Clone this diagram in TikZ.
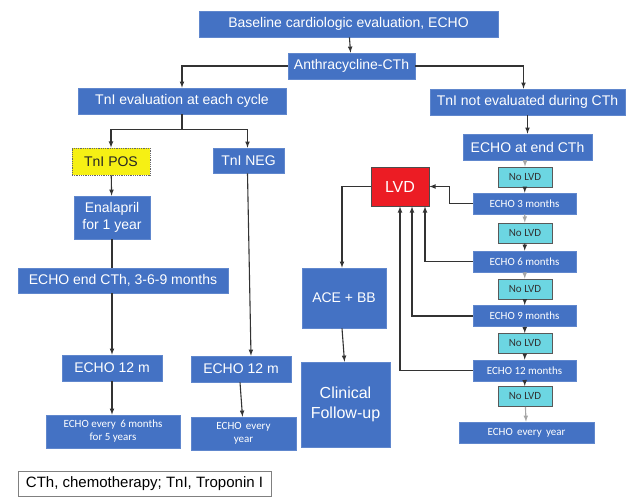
\documentclass[tikz,border=0pt]{standalone}
\usepackage{fontspec}
\setmainfont{Liberation Sans}
\newfontfamily\calfont{Carlito}
\usepackage{tikz}
\usetikzlibrary{positioning}

\definecolor{boxblue}{RGB}{68,114,196}
\definecolor{boxred}{RGB}{236,28,36}
\definecolor{boxyellow}{RGB}{246,240,20}
\definecolor{boxcyan}{RGB}{108,214,226}

\tikzset{
  bluebox/.style={draw=boxblue!85!white, line width=0.6pt, fill=boxblue, text=white,
    inner sep=0pt, align=center, font=\fontsize{14}{17}\selectfont},
  smallbox/.style={bluebox, font=\calfont\fontsize{11}{13}\selectfont},
  posbox/.style={draw=black!60, densely dotted, line width=0.8pt, fill=boxyellow, text=black!85,
    inner sep=0pt, font=\fontsize{14}{17}\selectfont},
  lvdbox/.style={draw=black!70, line width=0.8pt, fill=boxred, text=white,
    inner sep=0pt, font=\fontsize{16}{18}\selectfont},
  nolvdbox/.style={draw=black!65, line width=0.8pt, fill=boxcyan, text=black!80,
    inner sep=0pt, minimum width=54pt, minimum height=20pt, font=\calfont\fontsize{11}{13}\selectfont},
  legendbox/.style={draw=black!50, line width=1pt, fill=white, text=black,
    inner sep=0pt, font=\fontsize{15}{17}\selectfont},
  arr/.style={-latex, line width=1.1pt, draw=black!80},
  arrlight/.style={-latex, line width=1.1pt, draw=black!35},
  link/.style={line width=1.1pt, draw=black!80}
}

\begin{document}
\begin{tikzpicture}[x=1pt, y=-1pt]
  \useasboundingbox (0,0) rectangle (641,503);

  % Top of the chart
  \node[bluebox, minimum width=299pt, minimum height=26pt] (base) at (348.5,24) {Baseline cardiologic evaluation, ECHO};
  \node[bluebox, minimum width=127pt, minimum height=26pt] (anth) at (351.5,66) {Anthracycline-CTh};
  \node[bluebox, minimum width=208pt, minimum height=26pt] (tnie) at (182,101) {TnI evaluation at each cycle};
  \node[bluebox, minimum width=195pt, minimum height=26pt] (tnin) at (527.5,102) {TnI not evaluated during CTh};
  \node[bluebox, minimum width=129pt, minimum height=26pt] (echoend) at (527.5,147) {ECHO at end CTh};

  % Left branch
  \node[posbox, minimum width=78pt, minimum height=27pt] (pos) at (111,161.5) {TnI POS};
  \node[bluebox, minimum width=71pt, minimum height=25pt] (neg) at (248.5,160.5) {TnI NEG};
  \node[bluebox, minimum width=76pt, minimum height=43pt] (enal) at (112,217.5) {Enalapril\\for 1 year};
  \node[bluebox, minimum width=210pt, minimum height=25pt] (echoend369) at (123,280.5) {ECHO end CTh, 3-6-9 months};
  \node[bluebox, minimum width=100pt, minimum height=26pt] (echoa) at (112,368) {ECHO 12 m};
  \node[smallbox, minimum width=134pt, minimum height=33pt] (sixm) at (113,431.5) {ECHO every\, 6 months\\for 5 years};
  \node[bluebox, minimum width=100pt, minimum height=26pt] (echob) at (241,369) {ECHO 12 m};
  \node[smallbox, minimum width=105pt, minimum height=33pt] (yearb) at (243.5,433.5) {ECHO\, every\\year};

  % Middle
  \node[lvdbox, minimum width=58pt, minimum height=39pt] (lvd) at (400,186.5) {LVD};
  \node[bluebox, minimum width=84pt, minimum height=60pt] (ace) at (344,298) {ACE + BB};
  \node[bluebox, minimum width=89pt, minimum height=85pt, font=\fontsize{16}{20}\selectfont] (clin) at (345.5,404.5) {Clinical\\Follow-up};

  % Right column
  \foreach \i/\y in {1/177, 2/233, 3/289, 4/343.5, 5/396.5}
    \node[nolvdbox] (n\i) at (525,\y) {No LVD};
  \foreach \i/\y/\t in {1/203.5/3, 2/261.5/6, 3/316/9, 4/370.5/12}
    \node[smallbox, minimum width=103pt, minimum height=21pt] (m\i) at (524.5,\y) {ECHO \t\ months};
  \node[smallbox, minimum width=135pt, minimum height=21pt] (every) at (526.5,432.5) {ECHO\, every\, year};

  % Legend
  \node[legendbox, minimum width=253pt, minimum height=25pt] (legend) at (144.5,483.5) {CTh, chemotherapy; TnI, Troponin I};

  % Connectors
  \draw[arr] (base) -- (anth);
  \draw[arr] (anth.west) -| (tnie.north);
  \draw[arr] (anth.east) -| ([xshift=-4pt]tnin.north);
  \draw[arr] (tnin.south) -- (echoend.north);
  \draw[link] (tnie.south) -- ++(0,15) coordinate (split);
  \draw[arr] (split) -| (pos.north);
  \draw[arr] (split) -| ([xshift=-1pt]neg.north);
  \draw[arr] (pos) -- (enal);
  \draw[link] (enal.south) -- (enal.south |- echoend369.north);
  \draw[arr] (echoend369.south -| echoa.north) -- (echoa.north);
  \draw[arr] (echoa.south) -- ([xshift=-1pt]sixm.north);
  \draw[arr] ([xshift=-1pt]neg.south) -- ([xshift=10pt]echob.north);
  \draw[arr] ([xshift=-1pt]echob.south) -- ([xshift=-1pt]yearb.north);

  \draw[arrlight] (echoend.south -| n1.north) -- (n1.north);
  \foreach \i in {1,...,4}
    \draw[arr] (n\i) -- (m\i);
  \foreach \i/\j/\c in {1/2/arrlight, 2/3/arrlight, 3/4/arr, 4/5/arr}
    \draw[\c] (m\i) -- (n\j);
  \draw[arrlight] (n5) -- (every);

  \draw[arr] (m1.west) -- ++(-23,0) |- (lvd.east);
  \draw[arr] (m2.west) -| ([xshift=25pt]lvd.south);
  \draw[arr] (m3.west) -| ([xshift=12pt]lvd.south);
  \draw[arr] (m4.west) -| (lvd.south);
  \draw[arr] (lvd.west) -| ([xshift=-2pt]ace.north);
  \draw[arr] ([xshift=-2pt]ace.south) -- ([xshift=-1pt]clin.north);
\end{tikzpicture}
\end{document}
